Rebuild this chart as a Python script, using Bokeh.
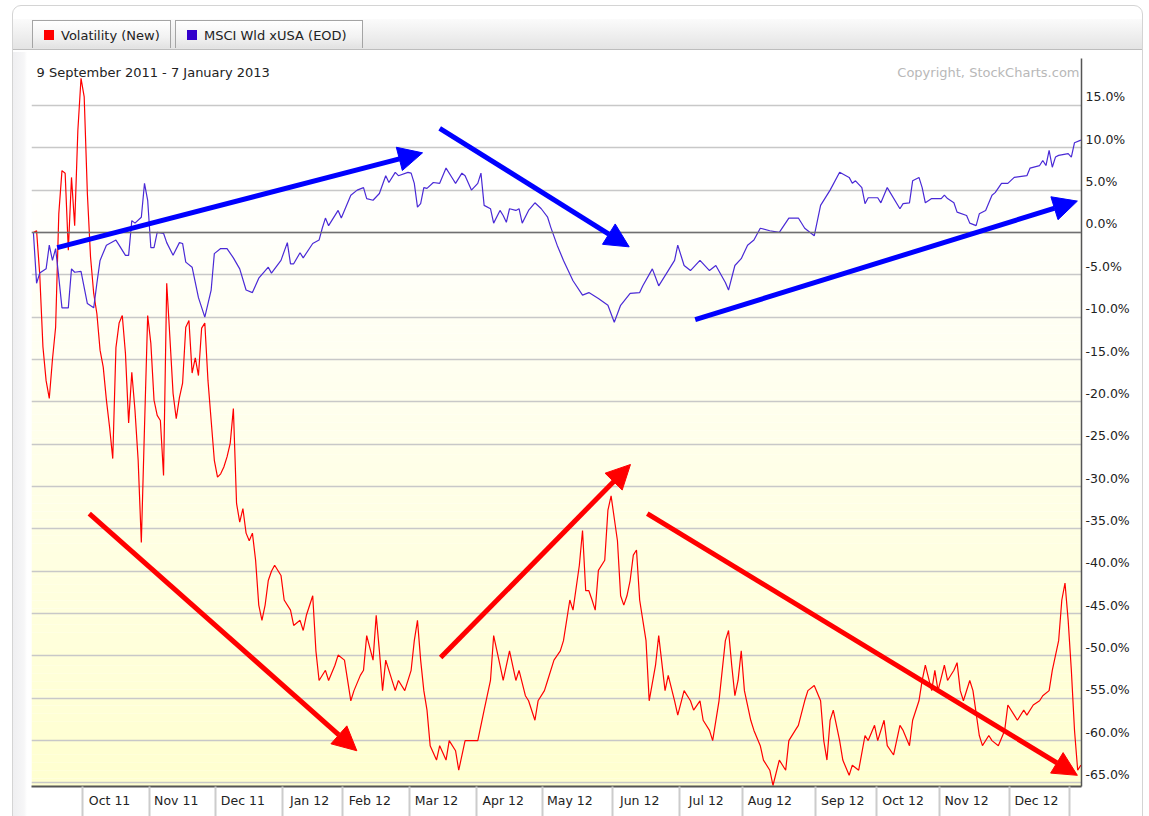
import numpy as np
from bokeh.plotting import figure
from bokeh.models import (Range1d, FixedTicker, LinearAxis, Grid, Span, Label,
                          Arrow, NormalHead, Div)
from bokeh.layouts import column
from bokeh.embed import file_html
from bokeh.resources import INLINE

# ---------------- data (x = trading-day number since 9 Sep 2011) ----------------
vol_day = [0, 1, 2, 3, 4, 5, 6, 7, 8, 9, 10, 11, 12, 13, 14, 15, 16, 17, 18, 19, 20, 21, 22, 23, 24, 25,
           26, 27, 28, 29, 30, 31, 32, 33, 34, 35, 36, 37, 38, 39, 40, 41, 42, 43, 44, 45, 46, 47, 48, 49,
           50, 51, 52, 53, 54, 55, 56, 57, 58, 59, 60, 61, 62, 63, 64, 65, 66, 67, 68, 69, 70, 71, 72, 73,
           74, 75, 76, 78, 79, 81, 82, 84, 85, 86, 88, 89, 90, 92, 93, 95, 96, 98, 100, 101, 103, 104, 105,
           107, 108, 109, 110, 111, 112, 114, 115, 117, 119, 120, 121, 122, 123, 124, 125, 127, 128, 130,
           131, 133, 134, 136, 137, 140, 142, 144, 145, 147, 148, 150, 152, 153, 155, 156, 158, 159, 161,
           162, 164, 166, 167, 169, 170, 172, 173, 174, 175, 176, 177, 178, 180, 181, 182, 184, 185, 186,
           187, 188, 189, 190, 191, 192, 193, 194, 196, 197, 199, 200, 202, 203, 205, 207, 208, 210, 211,
           213, 214, 216, 218, 219, 220, 221, 222, 223, 224, 226, 227, 229, 230, 232, 233, 235, 237, 238,
           240, 241, 243, 244, 246, 248, 249, 250, 251, 252, 254, 255, 257, 258, 260, 262, 263, 265, 266,
           268, 269, 271, 273, 274, 276, 277, 279, 280, 281, 283, 284, 285, 287, 288, 290, 291, 292, 293,
           295, 296, 298, 299, 301, 302, 304, 306, 307, 309, 310, 312, 313, 315, 317, 318, 320, 321, 323,
           324, 325, 326, 327, 328, 329, 330]
vol_pct = [0.0, 0.2, -5.0, -13.5, -17.5, -19.6, -15.0, -11.2, 2.2, 7.3, 7.0, -2.1, 6.5, 0.8, 12.0, 18.2,
           16.0, 4.6, -2.9, -7.2, -9.6, -13.9, -15.9, -19.8, -23.0, -26.7, -13.6, -10.7, -9.8, -14.3, -22.5,
           -16.5, -21.0, -26.9, -36.6, -23.0, -9.8, -13.1, -19.8, -21.6, -22.2, -28.7, -6.0, -12.4, -19.0,
           -22.0, -19.5, -17.8, -11.2, -10.4, -16.6, -14.8, -16.9, -11.3, -10.7, -17.5, -22.2, -26.9, -28.9,
           -28.5, -27.7, -26.5, -24.9, -20.8, -32.0, -34.2, -32.6, -35.5, -36.4, -35.5, -38.7, -44.0, -45.8,
           -44.0, -41.1, -40.0, -39.3, -40.5, -43.4, -44.6, -46.4, -45.8, -47.0, -45.2, -42.9, -49.4, -52.9,
           -51.7, -52.9, -51.1, -49.9, -50.5, -55.3, -54.1, -52.3, -51.7, -47.6, -50.5, -45.2, -49.4, -54.1,
           -50.5, -51.7, -54.1, -52.9, -54.1, -51.7, -48.2, -45.8, -50.5, -54.1, -56.4, -60.6, -62.3, -60.6,
           -62.3, -60.0, -61.2, -63.5, -60.0, -60.0, -60.0, -56.4, -52.9, -47.6, -51.1, -52.9, -49.4, -52.9,
           -51.7, -54.7, -55.3, -57.6, -55.3, -54.1, -52.9, -50.5, -49.4, -48.2, -43.4, -44.6, -39.3, -35.2,
           -42.3, -42.3, -43.4, -44.6, -39.9, -38.7, -32.8, -31.1, -36.4, -42.9, -44.0, -42.9, -41.1, -38.1,
           -37.5, -43.4, -45.8, -48.2, -55.3, -51.1, -47.6, -54.1, -52.3, -55.3, -57.0, -54.1, -55.3, -56.4,
           -55.3, -57.6, -58.8, -60.0, -55.3, -48.2, -47.0, -51.1, -54.7, -52.9, -49.4, -54.1, -57.6, -58.8,
           -60.6, -62.3, -63.5, -65.3, -62.3, -63.5, -60.0, -58.8, -58.2, -55.3, -54.1, -53.5, -55.3, -60.0,
           -62.3, -57.6, -56.4, -60.0, -62.3, -64.1, -62.9, -63.5, -59.4, -60.0, -58.2, -60.0, -57.6, -60.6,
           -61.7, -58.2, -58.8, -60.6, -57.6, -55.3, -52.9, -51.1, -54.1, -51.7, -54.1, -51.1, -52.9, -51.7,
           -50.8, -54.1, -55.3, -52.9, -54.1, -59.4, -60.6, -59.4, -60.0, -60.6, -58.8, -55.8, -57.0, -57.6,
           -56.4, -57.0, -55.8, -55.3, -54.7, -54.1, -51.7, -48.2, -43.4, -41.4, -45.8, -51.7, -58.8, -63.5,
           -62.9]

msci_day = [0, 1, 2, 4, 5, 6, 7, 8, 9, 11, 12, 13, 15, 17, 19, 20, 21, 23, 26, 27, 29, 30, 31, 32, 34, 35,
            36, 37, 38, 39, 41, 42, 44, 46, 47, 48, 50, 52, 54, 56, 57, 59, 61, 63, 65, 67, 69, 71, 74, 75,
            78, 80, 81, 82, 84, 85, 88, 90, 91, 92, 93, 96, 97, 100, 102, 104, 105, 107, 109, 111, 112, 114,
            115, 118, 119, 120, 121, 122, 123, 124, 126, 128, 130, 132, 133, 135, 136, 138, 140, 141, 142,
            144, 145, 147, 148, 149, 150, 152, 153, 154, 156, 158, 160, 162, 163, 165, 167, 170, 173, 175,
            178, 181, 183, 185, 188, 191, 192, 195, 197, 200, 202, 203, 205, 207, 210, 213, 215, 218, 219,
            221, 223, 225, 227, 229, 232, 235, 238, 241, 243, 246, 248, 251, 254, 257, 258, 259, 261, 262,
            263, 266, 267, 269, 273, 274, 276, 277, 279, 280, 281, 283, 286, 287, 288, 290, 291, 294, 295,
            297, 298, 300, 302, 303, 305, 307, 309, 313, 314, 317, 318, 319, 320, 321, 322, 323, 326, 327,
            328, 330]
msci_pct = [0.0, -6.0, -4.8, -4.3, -1.5, -3.3, -1.9, -5.3, -8.9, -8.9, -4.3, -4.7, -4.6, -8.4, -8.9, -6.0,
            -3.3, -1.5, -0.9, -1.5, -2.7, -2.7, 1.4, 1.1, 1.8, 5.8, 3.8, -1.8, -1.8, 0.0, -0.1, -1.2, -2.7,
            -1.2, -1.3, -3.5, -4.1, -7.7, -10.0, -6.8, -2.5, -1.9, -1.9, -3.0, -4.3, -6.8, -7.1, -5.4, -4.1,
            -4.8, -3.3, -1.2, -3.7, -3.7, -2.4, -3.0, -1.3, -0.9, 0.5, 1.7, 0.8, 2.6, 1.7, 4.4, 5.0, 5.3,
            4.0, 3.8, 4.6, 6.7, 5.9, 7.1, 6.7, 7.1, 7.0, 5.8, 3.0, 3.4, 5.3, 5.2, 5.9, 5.8, 7.6, 6.4, 5.8,
            7.0, 6.7, 5.0, 5.8, 7.0, 3.2, 2.8, 1.1, 2.6, 2.0, 1.2, 2.8, 2.6, 2.8, 1.1, 2.6, 3.5, 2.8, 1.8,
            0.6, -1.5, -3.3, -5.7, -7.4, -7.1, -7.8, -8.6, -10.6, -8.6, -7.2, -7.1, -6.3, -4.3, -6.3, -4.5,
            -3.3, -1.5, -3.9, -4.5, -3.3, -4.5, -3.9, -5.9, -6.8, -3.9, -3.1, -1.5, -0.9, 0.5, 0.2, 0.0, 1.7,
            1.7, 0.5, -0.4, 3.2, 5.0, 7.1, 6.5, 5.8, 6.1, 5.3, 3.4, 4.1, 4.1, 3.5, 5.3, 2.8, 3.4, 3.5, 6.1,
            6.5, 5.3, 3.5, 4.0, 4.0, 4.4, 4.0, 3.5, 2.4, 2.0, 1.1, 0.8, 2.2, 2.6, 4.4, 4.7, 5.8, 5.8, 6.5,
            6.7, 7.6, 7.9, 8.5, 7.9, 9.7, 7.7, 8.9, 9.1, 9.3, 8.9, 10.6, 10.9]

month_labels = ["Oct 11", "Nov 11", "Dec 11", "Jan 12", "Feb 12", "Mar 12", "Apr 12", "May 12",
                "Jun 12", "Jul 12", "Aug 12", "Sep 12", "Oct 12", "Nov 12", "Dec 12"]
month_start_day = [16, 37, 58, 79, 98, 119, 140, 161, 183, 204, 224, 247, 266, 286, 308, 327]
pct_levels = list(range(-65, 20, 5))

series_names = ["Volatility (New)", "MSCI Wld xUSA (EOD)"]
title_text = "9 September 2011 - 7 January 2013"
copyright_text = "Copyright, StockCharts.com"

# hand-drawn trend arrows: (x_start, y_start, x_end, y_end) in chart units
blue_arrows = [(7.5, -1.8, 122.6, 9.4), (128.0, 12.3, 187.7, -1.7), (208.5, -10.3, 328.9, 3.7)]
red_arrows = [(17.6, -33.2, 101.9, -61.2), (128.3, -50.2, 188.1, -27.4), (193.4, -33.2, 328.9, -64.1)]

# ---------------- styling ----------------
RED = "#ff0000"
BLUE_LINE = "#4a2ad6"
BLUE_KEY = "#3300cc"
ARROW_BLUE = "#0000ff"
FONT = "DejaVu Sans"
W = 1149

# ---------------- top legend strip (HTML) ----------------
tab_html = ""
tab_geom = [(32, 139), (175, 188)]
for (l, w), c, name in zip(tab_geom, [RED, BLUE_KEY], series_names):
    tab_html += (
        f'<div style="position:absolute;left:{l}px;top:20px;width:{w}px;height:28px;'
        f'border:1px solid #a4a4a4;border-bottom:none;'
        f'background:linear-gradient(#ffffff,#f2f2f2 60%,#e2e2e2);box-sizing:border-box;">'
        f'<div style="position:absolute;left:11px;top:9px;width:10px;height:10px;background:{c};"></div>'
        f'<div style="position:absolute;left:28px;top:6px;white-space:nowrap;">{name}</div></div>')
html = (
    f'<div style="position:relative;width:{W}px;height:52px;font-family:\'{FONT}\';'
    f'font-size:13px;color:#222;overflow:hidden;">'
    f'<div style="position:absolute;left:12px;top:5px;width:1131px;height:60px;'
    f'border:1px solid #d4d4d4;border-radius:9px 9px 0 0;box-sizing:border-box;"></div>'
    f'<div style="position:absolute;left:13px;top:19px;width:1129px;height:31px;'
    f'background:linear-gradient(#fbfbfb,#e4e4e4);border-bottom:1px solid #bdbdbd;"></div>'
    f'{tab_html}</div>')
top = Div(text=html, width=W, height=52, margin=0, styles={"margin": "0", "padding": "0"})

# ---------------- main chart ----------------
x0, x1 = -0.6, 330.2
y0, y1 = -65.42, 20.54
frame_bg = ("linear-gradient(to right, #ffffff 0px, #ffffff 12px, #d4d4d4 12px, #d4d4d4 13px, "
            "#efeff1 13px, #f6f6f7 24px, #ffffff 27px, #ffffff 1142px, #d4d4d4 1142px, "
            "#d4d4d4 1143px, #ffffff 1143px)")
p = figure(width=W, height=764, x_range=Range1d(x0, x1), y_range=Range1d(y0, y1),
           toolbar_location=None, output_backend="svg",
           min_border_left=31, min_border_right=68, min_border_top=6, min_border_bottom=30,
           x_axis_location=None, y_axis_location=None, outline_line_color=None,
           styles={"background": frame_bg})
p.center = [c for c in p.center if not isinstance(c, Grid)]
p.background_fill_color = "white"
p.border_fill_color = None

# pale yellow vertical gradient
ns = 90
edges = np.linspace(y0, y1, ns + 1)
cols = []
for i in range(ns):
    t = i / (ns - 1)           # 0 bottom -> 1 top
    b = int(round(208 + (255 - 208) * min(1.0, t / 0.85)))
    cols.append("#%02x%02x%02x" % (255, 255, b))
p.quad(left=x0, right=x1, bottom=edges[:-1], top=edges[1:], fill_color=cols,
       line_color=None, level="image")

grid = Grid(dimension=1, ticker=FixedTicker(ticks=pct_levels), grid_line_color="#c8c8c8",
            grid_line_width=1.6)
p.add_layout(grid)
p.add_layout(Span(location=0, dimension="width", line_color="#707070", line_width=1.6))

p.line(vol_day, vol_pct, line_color=RED, line_width=1.2)
p.line(msci_day, msci_pct, line_color=BLUE_LINE, line_width=1.2)

for (xs, ys, xe, ye) in blue_arrows:
    p.add_layout(Arrow(end=NormalHead(size=24, fill_color=ARROW_BLUE, line_color=ARROW_BLUE),
                       x_start=xs, y_start=ys, x_end=xe, y_end=ye,
                       line_color=ARROW_BLUE, line_width=5))
for (xs, ys, xe, ye) in red_arrows:
    p.add_layout(Arrow(end=NormalHead(size=24, fill_color=RED, line_color=RED),
                       x_start=xs, y_start=ys, x_end=xe, y_end=ye,
                       line_color=RED, line_width=5))

p.add_layout(Label(x=x0, y=y1, x_offset=5, y_offset=-14, text=title_text,
                   text_font=FONT, text_font_size="13px", text_color="#222222",
                   text_baseline="middle", text_align="left"))
p.add_layout(Label(x=x1, y=y1, x_offset=-2, y_offset=-14, text=copyright_text,
                   text_font=FONT, text_font_size="13px", text_color="#b8b8b8",
                   text_baseline="middle", text_align="right"))

# right percentage axis (labels sit just above their grid lines)
lab_ticks = [v + 1 for v in pct_levels]
yax = LinearAxis(ticker=FixedTicker(ticks=lab_ticks),
                 major_label_overrides={v + 1: "%.1f%%" % v for v in pct_levels})
yax.axis_line_color = "#555555"
yax.axis_line_width = 1.5
yax.major_tick_line_color = None
yax.minor_tick_line_color = None
yax.major_tick_out = 0
yax.major_tick_in = 0
yax.major_label_standoff = 4
yax.major_label_text_font = FONT
yax.major_label_text_font_size = "12.5px"
yax.major_label_text_color = "#222222"
p.add_layout(yax, "right")

# bottom month axis: separators = minor ticks, labels = major ticks
sep = [d - 0.5 for d in month_start_day]
lab_pos = [d + 8 for d in month_start_day[:-1]]
xax = LinearAxis(ticker=FixedTicker(ticks=lab_pos, minor_ticks=sep),
                 major_label_overrides={lp: t for lp, t in zip(lab_pos, month_labels)})
xax.axis_line_color = "#555555"
xax.axis_line_width = 2
xax.major_tick_line_color = None
xax.major_tick_out = 0
xax.major_tick_in = 0
xax.minor_tick_line_color = "#cccccc"
xax.minor_tick_line_width = 2
xax.minor_tick_out = 30
xax.minor_tick_in = 0
xax.major_label_standoff = -24
xax.major_label_text_font = FONT
xax.major_label_text_font_size = "12.5px"
xax.major_label_text_color = "#222222"
p.add_layout(xax, "below")

layout = column(top, p, spacing=0)
open("out.html", "w").write(file_html(layout, INLINE))
